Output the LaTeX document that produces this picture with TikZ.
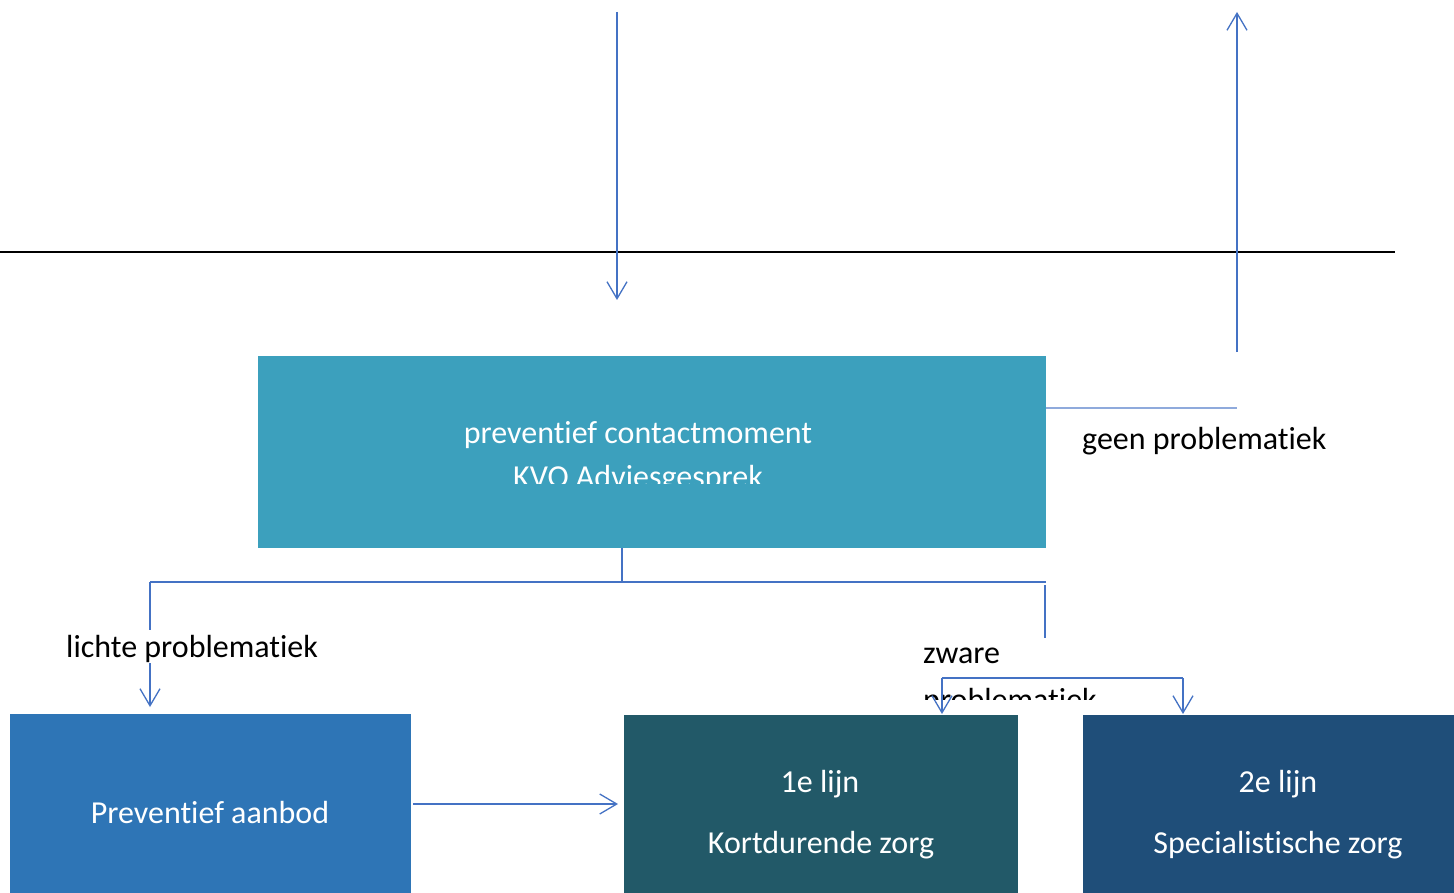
\documentclass[tikz,border=0pt]{standalone}
\usepackage{fontspec}
\setmainfont{Carlito}[Ligatures={NoCommon}]
\usetikzlibrary{arrows.meta}
\definecolor{mainbox}{RGB}{60,160,189}
\definecolor{prevbox}{RGB}{46,117,182}
\definecolor{eenbox}{RGB}{34,89,104}
\definecolor{tweebox}{RGB}{31,78,121}
\definecolor{conn}{RGB}{68,114,196}
\definecolor{connlight}{RGB}{143,170,220}
\tikzset{
  box/.style={draw=none, inner sep=0pt, anchor=north west},
  conline/.style={draw=conn, line width=1.3pt},
  arr/.style={conline, -{Straight Barb[length=17pt,width=20pt,line width=1.3pt]}},
  lbl/.style={font=\fontsize{32}{39}\selectfont, inner sep=0pt, anchor=base west, text=black},
  wlbl/.style={font=\fontsize{32}{39}\selectfont, inner sep=0pt, anchor=base, text=white},
}
\begin{document}
\begin{tikzpicture}[x=1pt,y=-1pt]
\useasboundingbox (0,0) rectangle (1454,893);
\fill[white] (0,0) rectangle (1454,893);
% horizontal rule
\draw[black, line width=1.4pt] (0,252) -- (1395,252);
% boxes
\node[box, fill=mainbox, minimum width=788pt, minimum height=192pt] (main) at (258,356) {};
\node[box, fill=prevbox, minimum width=401pt, minimum height=179pt] (prev) at (10,714) {};
\node[box, fill=eenbox, minimum width=394pt, minimum height=178pt] (een) at (624,715) {};
\node[box, fill=tweebox, minimum width=371pt, minimum height=178pt] (twee) at (1083,715) {};
% main texts
\node[wlbl] (t1) at (638,443) {preventief contactmoment};
\begin{scope}
\clip (258,356) rectangle (1046,483);
\node[wlbl] (t2) at (638,487) {KVO Adviesgesprek};
\end{scope}
% bottom texts
\node[wlbl] (p1) at (210,823) {Preventief aanbod};
\node[wlbl] (e1) at (820,792) {1e lijn};
\node[wlbl] (e2) at (821,853) {Kortdurende zorg};
\node[wlbl] (w1) at (1278,792) {2e lijn};
\node[wlbl] (w2) at (1278,853) {Specialistische zorg};
% coordinates
\coordinate (intop) at (617,12);
\coordinate (inend) at (617,300);
\coordinate (outbot) at (1237,352);
\coordinate (outtop) at (1237,12);
\coordinate (geenR) at (1237,408);
\coordinate (bc) at (622,548);
\coordinate (jn) at (622,582);
\coordinate (jl) at (150,582);
\coordinate (jr) at (1046,582);
\coordinate (lend) at (150,707);
\coordinate (zt) at (1045,585);
\coordinate (zb) at (1045,638);
\coordinate (bl) at (942,678);
\coordinate (br) at (1183,678);
\coordinate (bla) at (942,714);
\coordinate (bra) at (1183,714);
% connectors
\draw[arr] (intop) -- (inend);
\draw[arr] (outbot) -- (outtop);
\draw[draw=connlight, line width=1.3pt] (main.east |- geenR) -- (geenR);
\draw[conline] (main.south -| bc) -- (jn);
\draw[conline] (jl) -- (jr);
\draw[arr] (jl) -- (lend);
\draw[conline] (zt) -- (zb);
\draw[arr] (prev.east |- 0,804) ++(2,0) -- (618,804);
% labels
\node[lbl] (geen) at (1082,449) {geen problematiek};
\node[lbl, fill=white, text height=27pt, text depth=6pt] (licht) at (66,657) {lichte problematiek};
\node[lbl] (zw) at (923,663) {zware};
\begin{scope}
\clip (900,600) rectangle (1120,699);
\node[lbl] (zw2) at (923,710) {problematiek};
\end{scope}
\draw[arr] (bl) -- (bla);
\draw[conline] (bl) -- (br);
\draw[arr] (br) -- (bra);
\end{tikzpicture}
\end{document}
